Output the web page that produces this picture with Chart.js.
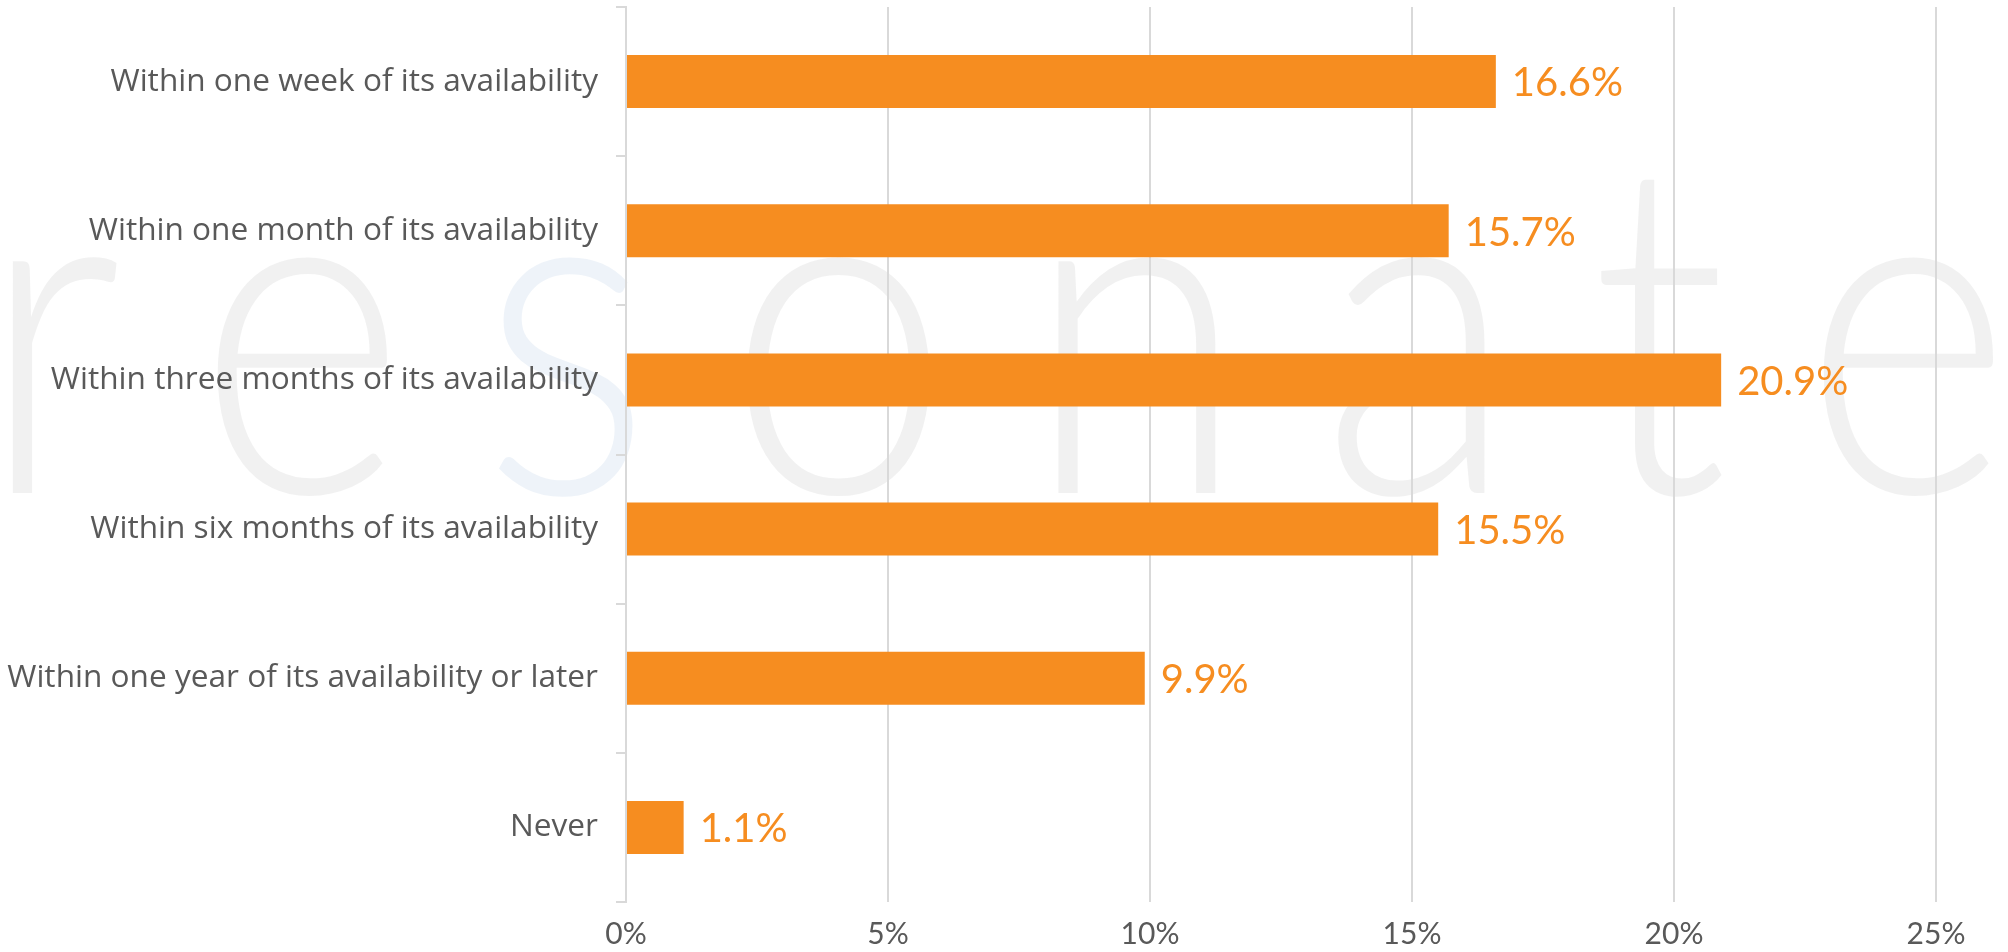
<!DOCTYPE html>
<html>
<head>
<meta charset="utf-8">
<script src="https://cdn.jsdelivr.net/npm/chart.js@4.4.1/dist/chart.umd.min.js"></script>
<style>
  html, body { margin: 0; padding: 0; background: #ffffff; }
  #wrap { width: 2008px; height: 952px; position: relative; }
</style>
</head>
<body>
<div id="wrap"><canvas id="c" width="2008" height="952"></canvas></div>
<script>
const categories = [
  "Within one week of its availability",
  "Within one month of its availability",
  "Within three months of its availability",
  "Within six months of its availability",
  "Within one year of its availability or later",
  "Never"
];
const values = [16.6, 15.7, 20.9, 15.5, 9.9, 1.1];
const xTicks = [0, 5, 10, 15, 20, 25];
const watermarkText = "resonate";

const ORANGE = '#F68D20';
const TEXT = '#595959';
const GRID = '#d9d9d9';

const watermark = {
  id: 'watermark',
  beforeDraw(chart) {
    const ctx = chart.ctx;
    ctx.save();
    ctx.font = '300 466px Lato';
    ctx.textBaseline = 'alphabetic';
    const sx = 0.86;
    const letters = watermarkText.split('');
    const widths = letters.map(l => ctx.measureText(l).width * sx);
    const total = widths.reduce((a, b) => a + b, 0);
    const startX = -20, endX = 2012;
    const gap = (endX - startX - total) / (letters.length - 1);
    let x = startX;
    letters.forEach((l, i) => {
      ctx.save();
      ctx.translate(x, 493);
      ctx.scale(sx, 1);
      ctx.fillStyle = (l === 's') ? 'rgba(200,215,235,0.3)' : 'rgba(225,225,225,0.45)';
      ctx.fillText(l, 0, 0);
      ctx.restore();
      x += widths[i] + gap;
    });
    ctx.restore();
  }
};

const dataLabels = {
  id: 'dataLabels',
  afterDatasetsDraw(chart) {
    const ctx = chart.ctx;
    const meta = chart.getDatasetMeta(0);
    ctx.save();
    ctx.font = '40px Lato';
    ctx.fillStyle = ORANGE;
    ctx.textAlign = 'left';
    ctx.textBaseline = 'middle';
    meta.data.forEach((bar, i) => {
      ctx.fillText(values[i].toFixed(1) + '%', bar.x + 16, bar.y + 2);
    });
    ctx.restore();
  }
};

new Chart(document.getElementById('c'), {
  type: 'bar',
  data: {
    labels: categories,
    datasets: [{
      data: values,
      backgroundColor: ORANGE,
      borderWidth: 0,
      barPercentage: 0.355,
      categoryPercentage: 1.0
    }]
  },
  options: {
    indexAxis: 'y',
    responsive: false,
    animation: false,
    devicePixelRatio: 1,
    layout: { padding: { top: 7, right: 72, left: 0, bottom: 0 } },
    plugins: { legend: { display: false }, tooltip: { enabled: false } },
    scales: {
      x: {
        min: 0, max: 25,
        afterBuildTicks(scale) { scale.ticks = xTicks.map(v => ({ value: v })); },
        afterFit(scale) { scale.height = 50; scale.paddingLeft = 0; scale.paddingRight = 0; },
        border: { display: false },
        grid: { color: GRID, lineWidth: 2, drawTicks: false },
        ticks: {
          color: TEXT,
          font: { family: 'Lato', size: 30 },
          padding: 14,
          callback: v => v + '%'
        }
      },
      y: {
        afterFit(scale) { scale.width = 626; scale.paddingTop = 0; scale.paddingBottom = 0; },
        border: { display: true, color: GRID, width: 2 },
        grid: { drawOnChartArea: false, drawTicks: true, tickLength: 10, color: GRID, lineWidth: 2, offset: true },
        ticks: {
          color: TEXT,
          font: { family: 'Open Sans', size: 31.6 },
          padding: 18
        }
      }
    }
  },
  plugins: [watermark, dataLabels]
});
</script>
</body>
</html>
